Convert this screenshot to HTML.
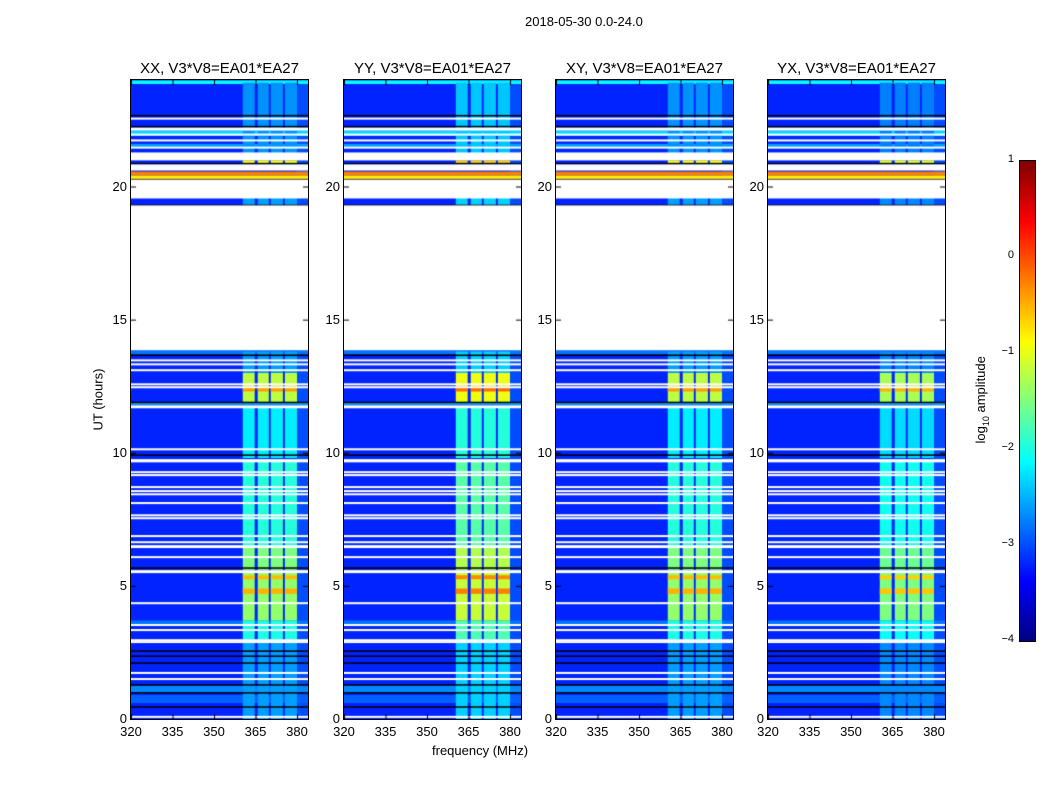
<!DOCTYPE html>
<html><head><meta charset="utf-8"><style>
body{margin:0;background:#fff;width:1050px;height:800px;position:relative;font-family:"Liberation Sans",sans-serif;overflow:hidden}
.t{position:absolute;white-space:nowrap;color:#000}
canvas{position:absolute}
</style></head><body>
<div class="t" style="left:525px;top:14px;font-size:13px">2018-05-30 0.0-24.0</div>
<div class="t" style="left:56px;top:392px;font-size:13px;transform:rotate(-90deg);width:84px;text-align:center">UT (hours)</div>
<div class="t" style="left:432px;top:743px;font-size:13px">frequency (MHz)</div>
<div id="panels"></div>
<canvas id="cb" width="15" height="480" style="left:1019px;top:160px;border:1px solid #000"></canvas>
<div id="cbt"></div>
<div class="t" style="left:922px;top:391px;font-size:13px;transform:rotate(-90deg);width:120px;text-align:center">log<sub style="font-size:9px">10</sub> amplitude</div>
<script>
// ---- data ----
const panelTitles=["XX, V3*V8=EA01*EA27","YY, V3*V8=EA01*EA27","XY, V3*V8=EA01*EA27","YX, V3*V8=EA01*EA27"];
const panelGain=[0,0.25,0,-0.1];
const xTicks=[320,335,350,365,380];
const yTicks=[0,5,10,15,20];
const cbTicks=[1,0,-1,-2,-3,-4];
const baseLevel=-3.2;
// special full-width rows [t0,t1,level]
const rowBands=[[23.85,23.98,-2.1],[21.9,22.1,-2.3],[21.46,21.6,-2.6],[20.41,20.56,-0.25],[20.26,20.41,-0.8],[1.0,1.25,-2.7],[0.6,0.9,-2.9],[3.5,3.7,-2.8],[11.8,11.9,-2.5],[13.7,13.85,-2.8]];
// RFI channel columns [f0,f1] in MHz
const rfiCols=[[360.4,364.7],[365.8,369.8],[370.5,374.9],[375.6,380]];
// RFI intensity segments [t0,t1,level]
const rfiSegs=[[0,3.0,-2.6],[3.0,3.7,-2.0],[3.7,5.5,-1.4],[5.6,6.5,-1.5],[6.5,9.7,-1.95],[9.8,11.7,-2.2],[11.9,13.0,-1.2],[12.3,12.5,-0.4],[4.7,4.9,-0.5],[5.25,5.4,-0.55],[13.0,13.8,-2.6],[19.3,19.6,-2.6],[20.86,20.98,-0.9],[21.0,23.9,-2.65]];
const blackLines=[22.66,22.25,20.86,20.26,19.29,13.66,11.89,9.91,5.67,2.55,2.36,2.10,1.28,0.98,0.45];
const whiteLines=[22.55,21.95,21.73,21.46,13.47,13.32,13.10,12.57,12.46,10.13,9.27,9.16,8.71,8.56,8.44,8.11,7.65,7.54,6.87,6.64,6.08,4.35,3.53,3.34,2.96,2.89,1.73,1.50,0.08];
const whiteBands=[[22.10,22.21],[20.98,21.28],[20.60,20.83],[19.55,20.26],[13.85,19.29],[11.67,11.78],[9.64,9.76],[6.42,6.53],[5.48,5.59]];
// ---- rendering ----
const lefts=[131,344,556,768],TOP=80,W=177,H=639,fmin=320,fmax=320+177/2.767;
function jet(v){let x=(v+4)/5;x=Math.max(0,Math.min(1,x));
 const r=Math.max(0,Math.min(1,1.5-Math.abs(4*x-3))),g=Math.max(0,Math.min(1,1.5-Math.abs(4*x-2))),b=Math.max(0,Math.min(1,1.5-Math.abs(4*x-1)));
 return `rgb(${r*255|0},${g*255|0},${b*255|0})`;}
const X=f=>(f-fmin)/(fmax-fmin)*W, Y=h=>H-h/24*H;
const host=document.getElementById('panels');
lefts.forEach((L,p)=>{
 const c=document.createElement('canvas');c.width=W;c.height=H;
 c.style.left=L+'px';c.style.top=TOP+'px';c.style.outline='1px solid #000';
 
 
 host.appendChild(c);const g=c.getContext('2d');
 g.fillStyle=jet(baseLevel);g.fillRect(0,0,W,H);
 g.fillStyle=jet(-3.0);g.fillRect(X(380),0,W-X(380),H);
 rowBands.forEach(b=>{g.fillStyle=jet(b[2]);g.fillRect(0,Y(b[1]),W,Y(b[0])-Y(b[1]));});
 rfiSegs.forEach(s=>{rfiCols.forEach(cl=>{g.fillStyle=jet(s[2]+panelGain[p]);g.fillRect(X(cl[0]),Y(s[1]),X(cl[1])-X(cl[0]),Y(s[0])-Y(s[1]));});});
 g.fillStyle='#000';blackLines.forEach(h=>g.fillRect(0,Y(h)-0.75,W,1.5));
 g.fillStyle='#fff';whiteLines.forEach(h=>g.fillRect(0,Y(h)-1,W,2));
 whiteBands.forEach(b=>g.fillRect(0,Y(b[1]),W,Y(b[0])-Y(b[1])));
 g.fillStyle='#000';
 xTicks.forEach(f=>{g.fillRect(X(f),H-5,1,5);g.fillRect(X(f),0,1,5);});
 yTicks.forEach(h=>{g.fillRect(0,Y(h),5,1);g.fillRect(W-5,Y(h),5,1);});
 const t=document.createElement('div');t.className='t';t.textContent=panelTitles[p];
 
 
 t.style.cssText=`left:${L}px;width:${W}px;text-align:center;top:60px;font-size:15px`;host.appendChild(t);
 xTicks.forEach(f=>{const d=document.createElement('div');d.className='t';d.textContent=f;
  
  
  d.style.cssText=`left:${L+X(f)-20}px;width:40px;text-align:center;top:724px;font-size:13px`;host.appendChild(d);});
 yTicks.forEach(h=>{const d=document.createElement('div');d.className='t';d.textContent=h;
  
  
  d.style.cssText=`left:${L-44}px;width:40px;text-align:right;top:${TOP+Y(h)-8}px;font-size:13px`;host.appendChild(d);});
});
const cb=document.getElementById('cb').getContext('2d');
for(let i=0;i<480;i++){cb.fillStyle=jet(1-i/480*5);cb.fillRect(0,i,15,1);}
const cbt=document.getElementById('cbt');
cbTicks.forEach(v=>{const y=160+(1-v)/5*480;const d=document.createElement('div');d.className='t';
 d.textContent=v<0?'\u2212'+(-v):v;
 
 
 d.style.cssText=`left:990px;width:24px;text-align:right;top:${y-7}px;font-size:11px`;cbt.appendChild(d);});
</script>
</body></html>
